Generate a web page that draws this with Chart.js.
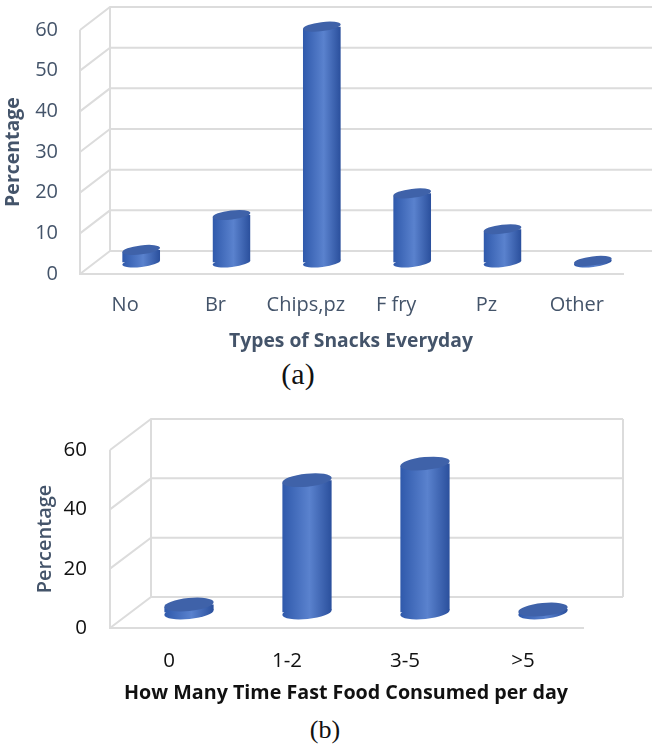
<!DOCTYPE html>
<html><head><meta charset="utf-8">
<script src="https://cdn.jsdelivr.net/npm/chart.js@4"></script>
<style>
html,body{margin:0;padding:0;background:#fff;width:661px;height:746px;overflow:hidden}
canvas{position:absolute;left:0}
.cap{position:absolute;font-family:"Liberation Serif",serif;color:#111;transform:translateX(-50%)}
</style></head><body>
<canvas id="a" style="top:0;width:661px;height:353px" width="661" height="353"></canvas>
<canvas id="b" style="top:395px;width:661px;height:310px" width="661" height="310"></canvas>
<div class="cap" style="left:298px;top:357px;font-size:30px">(a)</div>
<div class="cap" style="left:325px;top:715px;font-size:26px">(b)</div>
<script>
const categoriesA = ["No","Br","Chips,pz","F fry","Pz","Other"];
const valuesA = [3.1,11.7,58,17,8.2,0.4];
const categoriesB = ["0","1-2","3-5",">5"];
const valuesB = [2.7,44.6,50.2,1];
const gridColor = "#dcdcdc";

function make(id,cats,vals,o){
  const depth = {
    id:"depth",
    beforeDatasetsDraw(c){
      const x=c.scales.x,y=c.scales.y,g=c.ctx,L=x.left,R=x.right;
      g.save();g.strokeStyle=gridColor;g.lineWidth=o.gridW;
      g.beginPath();
      y.ticks.forEach(t=>{
        const p=y.getPixelForValue(t.value);
        g.moveTo(L,p);g.lineTo(L+o.wx,p-o.wy);g.lineTo(R+o.wx,p-o.wy);
      });
      const b=y.getPixelForValue(0),tp=y.getPixelForValue(o.max);
      g.moveTo(L,tp);g.lineTo(L,b);g.lineTo(R+2,b);
      g.moveTo(L+o.wx,tp-o.wy);g.lineTo(L+o.wx,b-o.wy);
      if(o.rightWall){g.moveTo(R+o.wx,tp-o.wy);g.lineTo(R+o.wx,b-o.wy);}
      g.stroke();g.restore();
    },
    beforeDatasetDraw(c){
      const g=c.ctx,bars=c.getDatasetMeta(0).data,s=Math.tan(o.rot);
      g.save();g.translate(o.wx/2+o.bx,-o.wy/2);
      bars.forEach(b=>{
        g.fillStyle=b.options.backgroundColor;
        g.beginPath();g.ellipse(b.x,b.base,b.width/2,o.ry,-o.rot,0,Math.PI*2);g.fill();
      });
      g.restore();
      g.save();g.translate(o.wx/2+o.bx,-o.wy/2);
      g.beginPath();
      bars.forEach(b=>{
        const h=b.width/2;
        g.moveTo(b.x-h,b.y+h*s);g.lineTo(b.x+h,b.y-h*s);
        g.lineTo(b.x+h,b.base-h*s);g.lineTo(b.x-h,b.base+h*s);g.closePath();
      });
      g.clip();
    },
    afterDatasetDraw(c){
      const g=c.ctx;
      g.restore();
      g.save();g.translate(o.wx/2+o.bx,-o.wy/2);
      c.getDatasetMeta(0).data.forEach(b=>{
        g.fillStyle="#3f62a9";
        g.beginPath();g.ellipse(b.x,b.y,b.width/2,o.ry,-o.rot,0,Math.PI*2);g.fill();
      });
      g.restore();
    }
  };
  return new Chart(document.getElementById(id),{
    type:"bar",
    data:{labels:cats,datasets:[{data:vals,barPercentage:0.42,categoryPercentage:1,
      backgroundColor(ctx){
        const c=ctx.chart,x=c.scales.x;
        if(!x||ctx.dataIndex===undefined||!c.chartArea) return "#3a64b4";
        const m=x.getPixelForValue(ctx.dataIndex),w=(x.right-x.left)/cats.length*0.42;
        const g=c.ctx.createLinearGradient(m-w/2,0,m+w/2,0);
        g.addColorStop(0,"#2f59ab");g.addColorStop(0.55,"#5a82ce");g.addColorStop(1,"#2a4f9c");
        return g;
      }}]},
    options:{
      responsive:false,animation:false,
      layout:{padding:{top:o.top,right:661-o.right,left:0,bottom:0}},
      plugins:{legend:{display:false},tooltip:{enabled:false}},
      scales:{
        x:{grid:{display:false},border:{display:false},
          ticks:{color:o.tickColor,font:{family:"Open Sans",size:o.tickSize},padding:o.xPad,maxRotation:0,autoSkip:false},
          afterFit(s){s.height=o.xH},
          title:{display:true,text:o.xTitle,color:o.xTitleColor,font:{family:"Open Sans",size:o.xTitleSize,weight:"bold"},padding:{top:o.xTitlePad,bottom:0}}},
        y:{min:0,max:o.max,grid:{display:false},border:{display:false},
          ticks:{stepSize:o.step,color:o.tickColor,font:{family:"Open Sans",size:o.tickSize},padding:o.yPad},
          afterFit(s){s.width=o.left},
          title:{display:true,text:"Percentage",color:"#44546a",font:{family:"Open Sans",size:o.yTitleSize,weight:o.yTitleWeight},padding:{top:o.yTitleOff,bottom:0}}}
      }
    },
    plugins:[depth]
  });
}
make("a",categoriesA,valuesA,{left:80,right:622,top:30,xH:79,max:60,step:10,wx:30,wy:23,bx:1,gridW:2,ry:4.5,rot:0.12,rightWall:false,
  tickColor:"#44546a",tickSize:20,xPad:11,yPad:14,xTitle:"Types of Snacks Everyday",xTitleColor:"#44546a",xTitleSize:19.3,xTitlePad:10,yTitleSize:19.5,yTitleWeight:"bold",yTitleOff:2});
make("b",categoriesB,valuesB,{left:110,right:582,top:55,xH:77,max:60,step:20,wx:41,wy:31,bx:-0.5,gridW:2,ry:6.5,rot:0.1,rightWall:true,
  tickColor:"#111",tickSize:20.5,xPad:13,yPad:15,xTitle:"How Many Time Fast Food Consumed per day",xTitleColor:"#111",xTitleSize:19.7,xTitlePad:8,yTitleSize:20,yTitleWeight:"600",yTitleOff:33});
</script>
</body></html>
